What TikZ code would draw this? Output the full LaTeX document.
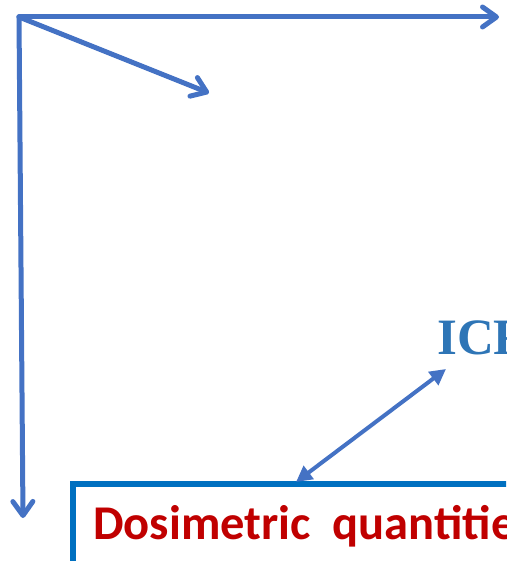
\documentclass[tikz,border=0pt]{standalone}
\usepackage{fontspec}
\setmainfont{Liberation Serif}
\newfontfamily\carlito{Carlito}
\usetikzlibrary{arrows.meta}
\definecolor{arrblue}{HTML}{4472C4}
\definecolor{boxblue}{HTML}{0070C0}
\definecolor{icrpblue}{HTML}{2E75B6}
\definecolor{darkred}{HTML}{C00000}
\tikzset{
  axis/.style={draw=arrblue, line width=5pt, line cap=round, line join=round,
    -{Straight Barb[length=14pt, width=20pt, line width=5pt, round]}},
  dbl/.style={draw=arrblue, line width=4pt,
    {Triangle[length=16pt, width=16pt]}-{Triangle[length=16pt, width=16pt]}},
}
\begin{document}
\begin{tikzpicture}[x=1pt, y=-1pt]
\useasboundingbox (0,0) rectangle (506,561);
\clip (0,0) rectangle (506,561);
\coordinate (o) at (19,17);
\coordinate (xend) at (499,17);
\coordinate (yend) at (23,518);
\coordinate (dend) at (209,93);
\draw[axis] (o) -- (xend);
\draw[axis] (o) -- (yend);
\draw[axis] (o) -- (dend);
\node[anchor=base west, inner sep=0pt, text=icrpblue, font=\fontsize{51}{60}\selectfont\bfseries] (icrp) at (437,354) {ICRP};
\node[anchor=north west, draw=boxblue, line width=6pt, inner sep=0pt, outer sep=0pt, minimum width=500pt, minimum height=100pt] (box) at (73,484) {};
\node[anchor=base west, inner sep=0pt, text=darkred, font=\carlito\fontsize{48.5}{56}\selectfont\bfseries] (dq) at (93,539) {Dosimetric\ \ quantities};
\coordinate (a1) at (296,482);
\coordinate (a2) at (446,369);
\draw[dbl] (a1) -- (a2);
\end{tikzpicture}
\end{document}
